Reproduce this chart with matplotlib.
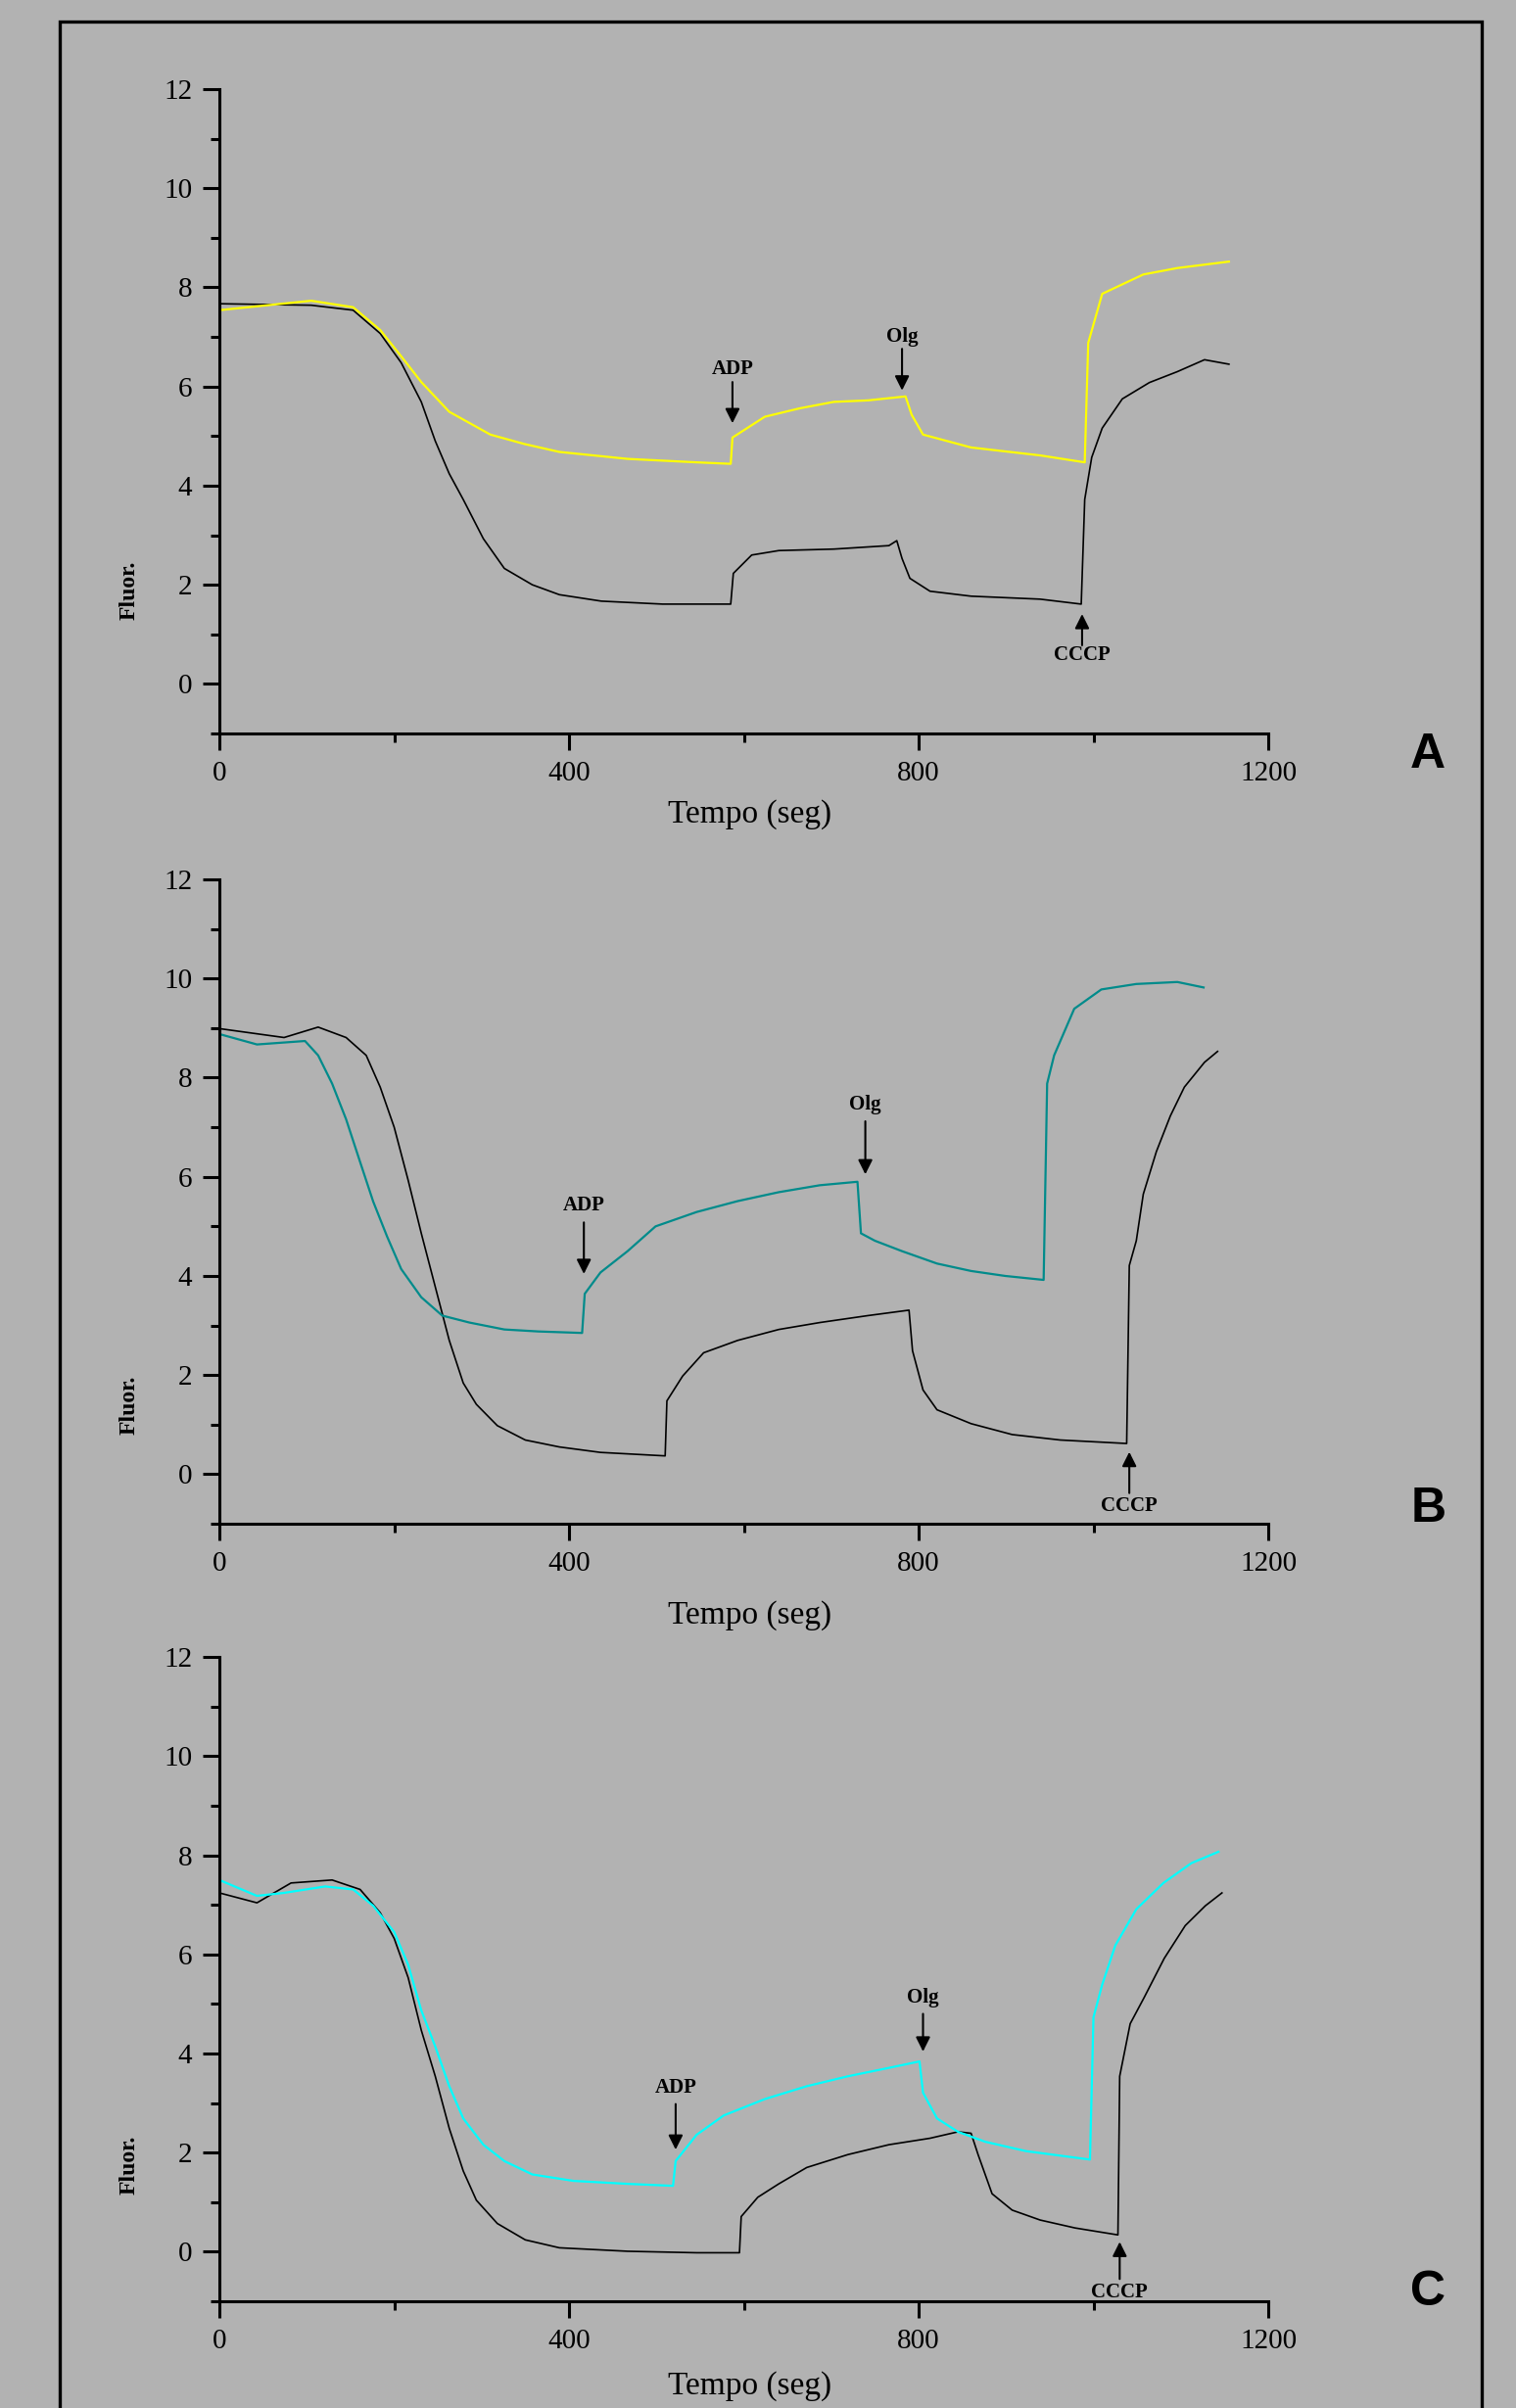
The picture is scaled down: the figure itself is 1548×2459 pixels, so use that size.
import matplotlib
matplotlib.use("Agg")
import matplotlib.pyplot as plt
from matplotlib.patches import Rectangle
from matplotlib.ticker import MultipleLocator

# panel A
a_yel_t = [0, 105, 153, 184, 208, 231, 263, 310, 349, 389, 467, 546, 585, 587, 624, 664, 703, 742, 785,
           792, 805, 860, 939, 990, 994, 1010, 1057, 1096, 1155]
a_yel_v = [7.54, 7.73, 7.6, 7.14, 6.61, 6.09, 5.49, 5.03, 4.84, 4.68, 4.54, 4.47, 4.44, 4.97, 5.39, 5.56,
           5.69, 5.72, 5.8, 5.43, 5.03, 4.77, 4.61, 4.47, 6.88, 7.87, 8.26, 8.39, 8.52]
a_blk_t = [0, 105, 153, 184, 208, 231, 247, 263, 279, 302, 326, 358, 389, 437, 507, 585, 588, 609, 640,
           703, 766, 775, 781, 790, 813, 860, 939, 986, 990, 998, 1010, 1033, 1064, 1096, 1127, 1155]
a_blk_v = [7.67, 7.64, 7.54, 7.07, 6.48, 5.69, 4.9, 4.24, 3.72, 2.93, 2.33, 2.0, 1.8, 1.67, 1.61, 1.61,
           2.23, 2.6, 2.69, 2.72, 2.79, 2.89, 2.53, 2.13, 1.87, 1.77, 1.71, 1.61, 3.72, 4.57, 5.16, 5.75,
           6.08, 6.3, 6.54, 6.45]

# panel B
b_col_t = [0, 43, 98, 113, 129, 145, 161, 176, 192, 208, 231, 255, 286, 326, 365, 415, 418, 436, 467, 499,
           546, 593, 640, 687, 730, 734, 750, 781, 821, 860, 899, 943, 947, 955, 978, 1009, 1049, 1096, 1126]
b_col_v = [8.88, 8.67, 8.74, 8.45, 7.88, 7.16, 6.3, 5.5, 4.79, 4.14, 3.57, 3.2, 3.06, 2.92, 2.88, 2.85,
           3.64, 4.07, 4.5, 5.0, 5.29, 5.51, 5.69, 5.83, 5.9, 4.86, 4.71, 4.5, 4.25, 4.1, 4.0, 3.92, 7.88,
           8.45, 9.39, 9.78, 9.89, 9.93, 9.82]
b_blk_t = [0, 74, 113, 145, 168, 184, 200, 216, 231, 247, 263, 279, 294, 318, 350, 389, 436, 510, 512,
           530, 554, 593, 640, 687, 742, 789, 793, 805, 821, 860, 907, 962, 1038, 1041, 1049, 1057, 1072,
           1088, 1104, 1127, 1142]
b_blk_v = [8.99, 8.81, 9.02, 8.81, 8.45, 7.81, 7.0, 5.93, 4.86, 3.78, 2.7, 1.84, 1.41, 0.98, 0.69, 0.55,
           0.44, 0.37, 1.48, 1.98, 2.45, 2.7, 2.92, 3.06, 3.2, 3.31, 2.49, 1.7, 1.3, 1.02, 0.8, 0.69, 0.62,
           4.21, 4.71, 5.65, 6.51, 7.23, 7.81, 8.31, 8.53]

# panel C
c_col_t = [0, 43, 74, 121, 153, 176, 200, 216, 231, 247, 263, 279, 302, 326, 358, 405, 467, 519, 522, 546,
           577, 624, 672, 719, 766, 801, 805, 821, 845, 876, 923, 996, 1000, 1010, 1025, 1049, 1080, 1112,
           1143]
c_col_v = [7.5, 7.18, 7.24, 7.37, 7.31, 6.98, 6.45, 5.79, 4.87, 4.14, 3.34, 2.69, 2.16, 1.83, 1.56, 1.43,
           1.37, 1.33, 1.83, 2.36, 2.75, 3.08, 3.34, 3.54, 3.71, 3.84, 3.21, 2.69, 2.42, 2.22, 2.03, 1.86,
           4.73, 5.39, 6.18, 6.91, 7.44, 7.84, 8.07]
c_blk_t = [0, 43, 82, 129, 161, 184, 200, 216, 231, 247, 263, 279, 294, 318, 350, 389, 467, 546, 595, 597,
           616, 640, 672, 719, 766, 813, 845, 860, 868, 884, 907, 939, 979, 1028, 1030, 1042, 1058, 1081,
           1105, 1128, 1147]
c_blk_v = [7.24, 7.04, 7.44, 7.5, 7.31, 6.84, 6.32, 5.53, 4.47, 3.54, 2.49, 1.63, 1.04, 0.57, 0.24, 0.08,
           0.01, -0.02, -0.02, 0.71, 1.1, 1.37, 1.7, 1.96, 2.16, 2.29, 2.42, 2.39, 1.96, 1.17, 0.84, 0.64,
           0.48, 0.34, 3.54, 4.6, 5.13, 5.92, 6.58, 6.98, 7.24]

# arrows: (label, x, y text, y tail, y head)
a_marks = [("ADP", 587, 6.35, 6.09, 5.26), ("Olg", 781, 7.01, 6.76, 5.92), ("CCCP", 987, 0.58, 0.78, 1.41)]
b_marks = [("ADP", 417, 5.43, 5.08, 4.04), ("Olg", 739, 7.45, 7.12, 6.05), ("CCCP", 1041, -0.65, -0.38, 0.45)]
c_marks = [("ADP", 522, 3.31, 2.98, 2.06), ("Olg", 805, 5.13, 4.80, 4.04), ("CCCP", 1030, -0.83, -0.55, 0.20)]

panels = [
    ("A", a_yel_t, a_yel_v, "#ffff00", a_blk_t, a_blk_v, a_marks, 0.6954, 0.662, 0.6865, 0.7548),
    ("B", b_col_t, b_col_v, "#008b8b", b_blk_t, b_blk_v, b_marks, 0.3672, 0.329, 0.3733, 0.4164),
    ("C", c_col_t, c_col_v, "#00ffff", c_blk_t, c_blk_v, c_marks, 0.0443, 0.009, 0.048, 0.1009),
]

bg = "#b2b2b2"
fig = plt.figure(figsize=(15.48, 24.59), dpi=100, facecolor=bg)
serif = "Liberation Serif"

fig.patches.append(Rectangle((61 / 1548, -0.05), (1513 - 61) / 1548, 1.05 - 22 / 2459,
                             transform=fig.transFigure, fill=False, lw=2.4, ec="black"))

for name, ct, cv, col, kt, kv, marks, bottom, xl_y, let_y, yl_y in panels:
    ax = fig.add_axes([0.1447, bottom, 0.6919, 0.2676])
    ax.set_facecolor(bg)
    ax.plot(kt, kv, color="black", lw=1.2)
    ax.plot(ct, cv, color=col, lw=1.6)
    ax.set_xlim(0, 1200)
    ax.set_ylim(-1, 12)
    ax.spines["top"].set_visible(False)
    ax.spines["right"].set_visible(False)
    for s in ("left", "bottom"):
        ax.spines[s].set_linewidth(2.2)
    ax.xaxis.set_major_locator(MultipleLocator(400))
    ax.xaxis.set_minor_locator(MultipleLocator(200))
    ax.yaxis.set_major_locator(MultipleLocator(2))
    ax.yaxis.set_minor_locator(MultipleLocator(1))
    ax.set_yticks(range(0, 13, 2))
    ax.tick_params(which="major", direction="out", length=12, width=2.2, labelsize=21, pad=8)
    ax.tick_params(which="minor", direction="out", length=6.5, width=2.2)
    for lab in ax.get_xticklabels() + ax.get_yticklabels():
        lab.set_fontfamily(serif)
    for txt, x, yt, y0, y1 in marks:
        ax.annotate("", xy=(x, y1), xytext=(x, y0),
                    arrowprops=dict(arrowstyle="-|>", color="black", lw=1.5, mutation_scale=22,
                                    shrinkA=0, shrinkB=0))
        ax.text(x, yt, txt, ha="center", va="center", fontsize=15, fontweight="bold", family=serif)
    fig.text(0.4945, xl_y, "Tempo (seg)", ha="center", va="center", fontsize=24, family=serif)
    fig.text(0.942, let_y, name, ha="center", va="center", fontsize=36, fontweight="bold",
             family="Liberation Sans")
    # y label (garbled in the original)
    fig.text(0.0853, yl_y, "Fluor.", rotation=90, ha="center", va="center", fontsize=17,
             fontweight="bold", family=serif)

fig.savefig("out.png", dpi=100, facecolor=bg)
